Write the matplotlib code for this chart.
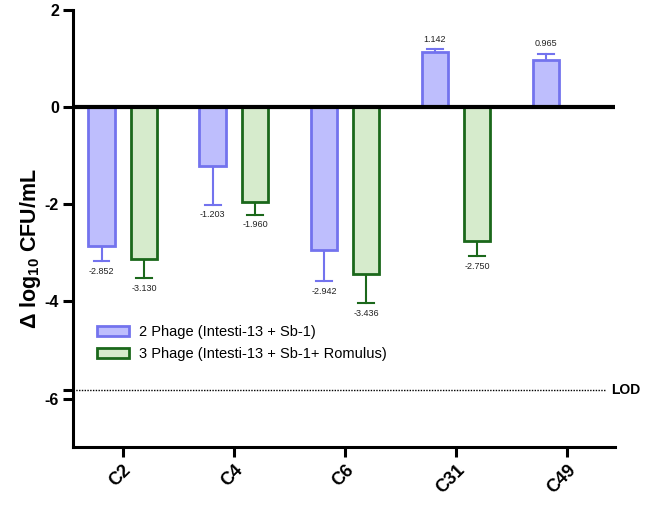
import numpy as np
import matplotlib
matplotlib.use("Agg")
import matplotlib.pyplot as plt
from matplotlib.patches import Patch

plt.rcParams["font.family"] = ["Liberation Sans", "DejaVu Sans"]
plt.rcParams["mathtext.fontset"] = "custom"
plt.rcParams["mathtext.rm"] = "Liberation Sans"
plt.rcParams["mathtext.bf"] = "Liberation Sans:bold"

categories = ["C2", "C4", "C6", "C31", "C49"]
phage2_vals = [-2.852, -1.203, -2.942, 1.142, 0.965]
phage2_err = [0.31, 0.80, 0.63, 0.05, 0.13]
phage3_vals = [-3.130, -1.960, -3.436, -2.750, np.nan]
phage3_err = [0.39, 0.25, 0.60, 0.31, np.nan]
phage2_labels = ["-2.852", "-1.203", "-2.942", "1.142", "0.965"]
phage3_labels = ["-3.130", "-1.960", "-3.436", "-2.750", ""]
lod = -5.83
series_names = ["2 Phage (Intesti-13 + Sb-1)", "3 Phage (Intesti-13 + Sb-1+ Romulus)"]

blue_fill, blue_edge = "#BEBEFD", "#7373EE"
green_fill, green_edge = "#D6EBCC", "#1B681B"

fig = plt.figure(figsize=(6.5, 5.07), dpi=100)
ax = fig.add_axes([0.112, 0.118, 0.834, 0.862])

x = np.arange(len(categories))
w = 0.24
off = 0.19

def draw(xs, vals, errs, labels, fill, edge):
    vals = np.array(vals, dtype=float)
    errs = np.array(errs, dtype=float)
    for xi, v, e, lab in zip(xs, vals, errs, labels):
        if np.isnan(v):
            continue
        ax.bar(xi, v, width=w, color=fill, edgecolor=edge, linewidth=2, zorder=2)
        sgn = 1 if v >= 0 else -1
        end = v + sgn * e
        ax.plot([xi, xi], [v, end], color=edge, lw=1.5, zorder=1)
        ax.plot([xi - 0.07, xi + 0.07], [end, end], color=edge, lw=1.5, zorder=1)
        ax.text(xi, end + sgn * 0.12, lab, ha="center",
                va="bottom" if sgn > 0 else "top", fontsize=6.5, color="#222222")

draw(x - off, phage2_vals, phage2_err, phage2_labels, blue_fill, blue_edge)
draw(x + off, phage3_vals, phage3_err, phage3_labels, green_fill, green_edge)

ax.axhline(0, color="black", lw=3, zorder=3)
ax.plot([-0.45, 4.35], [lod, lod], color="black", lw=1.0, ls=(0, (1, 1)), zorder=1)
ax.text(4.40, lod, "LOD", ha="left", va="center", fontsize=10,
        fontweight="bold", clip_on=False)

ax.set_xlim(-0.45, 4.43)
ax.set_ylim(-7, 2)
ax.set_yticks([2, 0, -2, -4, lod, -6])
ax.set_yticklabels(["2", "0", "-2", "-4", "", "-6"])
ax.set_xticks(x)
ax.set_xticklabels(categories, rotation=45, ha="right", rotation_mode="anchor")
for lab in ax.get_xticklabels():
    lab.set_fontweight("bold")
    lab.set_fontsize(13)
for lab in ax.get_yticklabels():
    lab.set_fontweight("bold")
    lab.set_fontsize(11.5)

for s in ["top", "right"]:
    ax.spines[s].set_visible(False)
for s in ["left", "bottom"]:
    ax.spines[s].set_linewidth(2.2)
ax.tick_params(axis="both", width=2.2, length=7, pad=3)

ax.set_ylabel(r"$\mathbf{\Delta}$ log$_{\mathbf{10}}$ CFU/mL", fontsize=15.5,
              fontweight="bold")
ax.yaxis.set_label_coords(-0.055, 0.455)

handles = [Patch(facecolor=blue_fill, edgecolor=blue_edge, linewidth=2),
           Patch(facecolor=green_fill, edgecolor=green_edge, linewidth=2)]
ax.legend(handles, series_names, loc="upper left", bbox_to_anchor=(0.02, 0.31),
          frameon=False, fontsize=10.5, handlelength=2.2, handleheight=0.7,
          handletextpad=0.7, labelspacing=0.55)

fig.savefig("out.png", dpi=100)
